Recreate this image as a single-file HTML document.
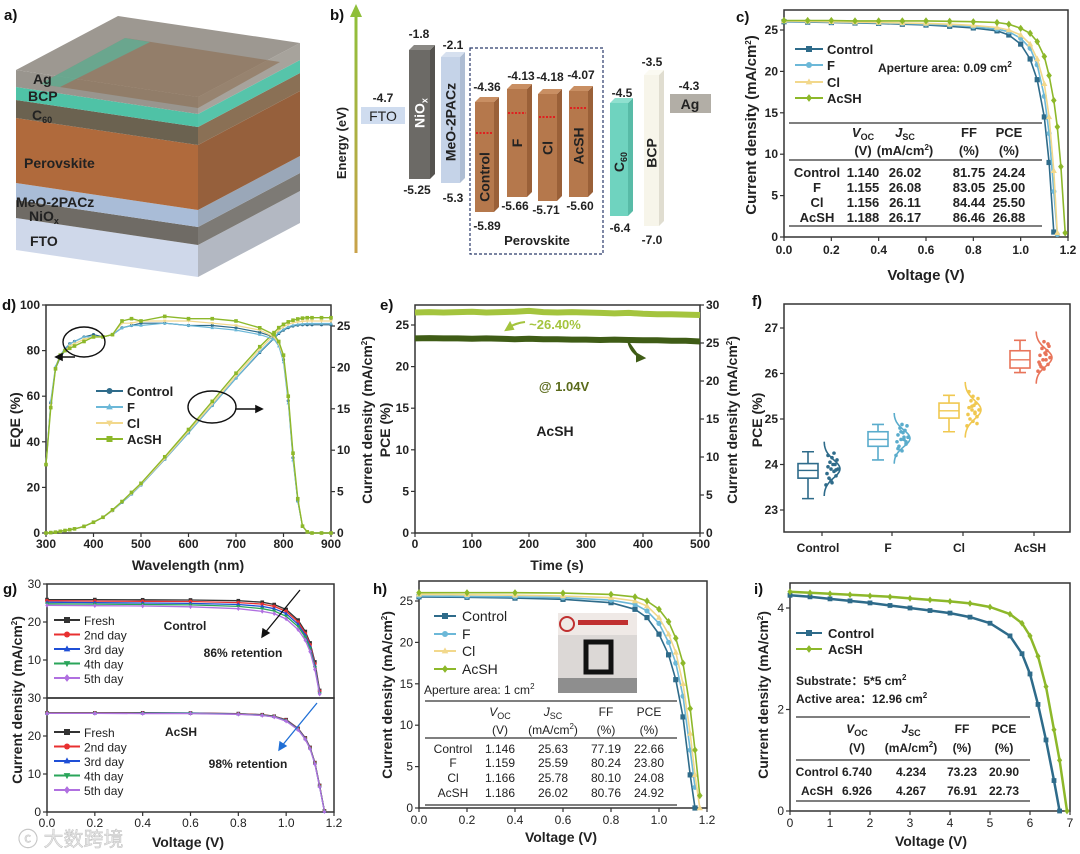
<!DOCTYPE html>
<html><head><meta charset="utf-8">
<style>
body{margin:0;background:#fff}
svg{display:block;font-family:"Liberation Sans","Noto Sans CJK SC",sans-serif}
</style></head>
<body>
<svg id="fig" width="1080" height="854" viewBox="0 0 1080 854">
<defs>
<linearGradient id="energyGrad" x1="0" y1="1" x2="0" y2="0">
<stop offset="0" stop-color="#c9a24a"/><stop offset="1" stop-color="#8fbf3a"/>
</linearGradient>
</defs>
<!-- panel a -->
<g>
<polygon points="16,218 198,245 198,277 16,250" fill="#cfd8ea"/>
<polygon points="198,245 300,191 300,223 198,277" fill="#b3b8c2"/>
<polygon points="16,200 198,227 198,245 16,218" fill="#6f6b65"/>
<polygon points="198,227 300,173 300,191 198,245" fill="#7d7a75"/>
<polygon points="16,183 198,210 198,227 16,200" fill="#a9bcd7"/>
<polygon points="198,210 300,156 300,173 198,227" fill="#9aa7b8"/>
<polygon points="16,118 198,145 198,210 16,183" fill="#b06a3c"/>
<polygon points="198,145 300,91 300,156 198,210" fill="#96603c"/>
<polygon points="16,100 198,127 198,145 16,118" fill="#6b6250"/>
<polygon points="198,127 300,73 300,91 198,145" fill="#8a7055"/>
<polygon points="16,87 198,114 198,127 16,100" fill="#4fc2a6"/>
<polygon points="198,114 300,60 300,73 198,127" fill="#56c4aa"/>
<polygon points="16,70 198,97 198,114 16,87" fill="#99958e"/>
<polygon points="198,97 300,43 300,60 198,114" fill="#a7a39c"/>
<polygon points="16,70 198,97 300,43 118,16" fill="#9d9891"/>
<polygon points="40,84 198,108 280,62 125,38" fill="#8a6a4a" opacity="0.55"/>
<polygon points="40,84 60,87 150,42 125,38" fill="#4fc2a6" opacity="0.6"/>
<g font-weight="bold" font-size="14" fill="#222">
<text x="33" y="84">Ag</text>
<text x="28" y="101">BCP</text>
<text x="32" y="120">C<tspan font-size="9" dy="3">60</tspan></text>
<text x="24" y="168">Perovskite</text>
<text x="16" y="207">MeO-2PACz</text>
<text x="29" y="221">NiO<tspan font-size="9" dy="3">x</tspan></text>
<text x="30" y="246">FTO</text>
</g>
</g>
<g font-weight="bold" font-size="15" fill="#111">
<text x="4" y="20">a)</text>
<text x="330" y="20">b)</text>
<text x="736" y="22">c)</text>
<text x="2" y="310">d)</text>
<text x="380" y="310">e)</text>
<text x="752" y="306">f)</text>
<text x="3" y="594">g)</text>
<text x="373" y="594">h)</text>
<text x="754" y="594">i)</text>
</g>
<!-- panel b -->
<g>
<rect x="354.5" y="14" width="3" height="239" fill="url(#energyGrad)"/>
<polygon points="356,4 350,17 362,17" fill="#8fbf3a"/>
<text transform="translate(346,143) rotate(-90)" text-anchor="middle" font-size="13" font-weight="bold" fill="#222">Energy (eV)</text>
<rect x="470" y="48" width="133" height="206" fill="none" stroke="#2a3a6a" stroke-width="1.2" stroke-dasharray="3,2"/>
<text x="537" y="245" text-anchor="middle" font-size="13" font-weight="bold" fill="#222">Perovskite</text>
</g>
<text x="18" y="846" font-size="20" fill="#e4e4e4" stroke="#bbb" stroke-width="0.4">ⓒ 大数跨境</text>
</svg>
<script>
const NS='http://www.w3.org/2000/svg';
const svg=document.getElementById('fig');
function mk(tag,attrs,parent){const e=document.createElementNS(NS,tag);for(const k in attrs)e.setAttribute(k,attrs[k]);(parent||svg).appendChild(e);return e;}
function txt(s,x,y,attrs,parent){const e=mk('text',Object.assign({x:x,y:y,fill:'#222'},attrs||{}),parent);e.innerHTML=s;return e;}
function scale(d0,d1,r0,r1){return v=>r0+(v-d0)*(r1-r0)/(d1-d0);}
function grp(name){const g=mk('g',{});return g;}

/* ---------- panel b bars ---------- */
const bBars=[
 {n:'nio-x-bar',x0:409,x1:430,y0:50,y1:179,f:'#6c6a66',s:'#55534f',t:'#8a8884',lab:'NiO<tspan font-size="9" dy="3">x</tspan>',lc:'#fff',ly:113,top:'-1.8',bot:'-5.25',tx:419,ty:38,bx:417,by:194},
 {n:'meo-2pacz-bar',x0:441,x1:460,y0:57,y1:183,f:'#c5d3e8',s:'#aebdd3',t:'#d6e0ef',lab:'MeO-2PACz',lc:'#222',ly:122,top:'-2.1',bot:'-5.3',tx:453,ty:49,bx:453,by:202},
 {n:'control-bar',x0:475,x1:494,y0:102,y1:212,f:'#b5784c',s:'#9a6038',t:'#c98f63',lab:'Control',lc:'#222',ly:177,top:'-4.36',bot:'-5.89',tx:487,ty:91,bx:487,by:230,red:133},
 {n:'f-bar',x0:507,x1:527,y0:89,y1:197,f:'#b5784c',s:'#9a6038',t:'#c98f63',lab:'F',lc:'#222',ly:143,top:'-4.13',bot:'-5.66',tx:521,ty:80,bx:515,by:210,red:113},
 {n:'cl-bar',x0:538,x1:557,y0:94,y1:201,f:'#b5784c',s:'#9a6038',t:'#c98f63',lab:'Cl',lc:'#222',ly:148,top:'-4.18',bot:'-5.71',tx:550,ty:81,bx:546,by:214,red:117},
 {n:'acsh-bar',x0:569,x1:588,y0:91,y1:197,f:'#b5784c',s:'#9a6038',t:'#c98f63',lab:'AcSH',lc:'#222',ly:146,top:'-4.07',bot:'-5.60',tx:581,ty:79,bx:580,by:210,red:108},
 {n:'c60-bar',x0:610,x1:628,y0:103,y1:216,f:'#6fd3bf',s:'#58bba7',t:'#8fe0cf',lab:'C<tspan font-size="9" dy="3">60</tspan>',lc:'#222',ly:162,top:'-4.5',bot:'-6.4',tx:622,ty:97,bx:620,by:232,lab2:1},
 {n:'bcp-bar',x0:644,x1:659,y0:75,y1:226,f:'#f7f5ea',s:'#e0ddd0',t:'#fbfaf2',lab:'BCP',lc:'#222',ly:153,top:'-3.5',bot:'-7.0',tx:652,ty:66,bx:652,by:244}
];
const gB=grp('energy-bars');
bBars.forEach(b=>{
 const d=5;
 const g=mk('g',{},gB);
 
 
 const fr=mk('rect',{x:b.x0,y:b.y0,width:b.x1-b.x0,height:b.y1-b.y0,fill:b.f},g);
 
 
 const sd=mk('polygon',{points:`${b.x1},${b.y0} ${b.x1+d},${b.y0-d} ${b.x1+d},${b.y1-d} ${b.x1},${b.y1}`,fill:b.s},g);
 
 
 const tp=mk('polygon',{points:`${b.x0},${b.y0} ${b.x0+d},${b.y0-d} ${b.x1+d},${b.y0-d} ${b.x1},${b.y0}`,fill:b.t},g);
 
 
 if(b.red){const r=mk('line',{x1:b.x0+1,x2:b.x1-1,y1:b.red,y2:b.red,stroke:'#e02020','stroke-width':2,'stroke-dasharray':'2,1.5'},g);
  
  }
 const cx=(b.x0+b.x1)/2;
 const l=txt(b.lab,0,0,{transform:`translate(${cx+5},${b.ly}) rotate(-90)`,'text-anchor':'middle','font-size':14,'font-weight':'bold',fill:b.lc},g);
 
 
 const t1=txt(b.top,b.tx,b.ty,{'text-anchor':'middle','font-size':12,'font-weight':'bold'},g);
 
 
 const t2=txt(b.bot,b.bx,b.by,{'text-anchor':'middle','font-size':12,'font-weight':'bold'},g);
 
 
});
const fto=mk('rect',{x:361,y:107,width:44,height:17,fill:'#cfdcef'},gB);


const ftoT=txt('FTO',383,121,{'text-anchor':'middle','font-size':14},gB);


const ftoV=txt('-4.7',383,102,{'text-anchor':'middle','font-size':12,'font-weight':'bold'},gB);


const ag=mk('rect',{x:670,y:94,width:41,height:19,fill:'#b2aea6'},gB);


const agT=txt('Ag',690,109,{'text-anchor':'middle','font-size':14,'font-weight':'bold'},gB);


const agV=txt('-4.3',689,90,{'text-anchor':'middle','font-size':12,'font-weight':'bold'},gB);



/* ---------- shared helpers ---------- */
function frame(g,x0,y0,x1,y1,name){const r=mk('rect',{x:x0,y:y0,width:x1-x0,height:y1-y0,fill:'none',stroke:'#333','stroke-width':1.5},g);
 
 }
function xTicks(g,ticks,labels,sx,y,ly,name,fw){ticks.forEach((t,i)=>{
 const l=mk('line',{x1:sx(t),x2:sx(t),y1:y,y2:y+4,stroke:'#333','stroke-width':1.2},g);
 
 
 const tx=txt(labels[i],sx(t),ly,{'text-anchor':'middle','font-size':12,'font-weight':fw||'bold'},g);
 
 });}
function yTicks(g,ticks,labels,sy,x,dir,name,fw){ticks.forEach((t,i)=>{
 const l=mk('line',{x1:x,x2:x+4*dir,y1:sy(t),y2:sy(t),stroke:'#333','stroke-width':1.2},g);
 
 
 const tx=txt(labels[i],x+6*dir,sy(t)+4,{'text-anchor':dir<0?'end':'start','font-size':12,'font-weight':fw||'bold'},g);
 
 });}
function marker(g,type,x,y,s,c){
 if(type==='sq')return mk('rect',{x:x-s,y:y-s,width:2*s,height:2*s,fill:c},g);
 if(type==='ci')return mk('circle',{cx:x,cy:y,r:s,fill:c},g);
 if(type==='tri')return mk('polygon',{points:`${x},${y-s*1.2} ${x-s*1.1},${y+s*0.8} ${x+s*1.1},${y+s*0.8}`,fill:c},g);
 if(type==='tdn')return mk('polygon',{points:`${x},${y+s*1.2} ${x-s*1.1},${y-s*0.8} ${x+s*1.1},${y-s*0.8}`,fill:c},g);
 if(type==='dia')return mk('polygon',{points:`${x},${y-s*1.3} ${x-s},${y} ${x},${y+s*1.3} ${x+s},${y}`,fill:c},g);
 return mk('circle',{cx:x,cy:y,r:s,fill:c},g);}
function series(g,xs,ys,sx,sy,color,mtype,ms,name,sw){
 const pts=[];xs.forEach((x,i)=>{if(ys[i]!=null)pts.push([sx(x),sy(ys[i])]);});
 const p=mk('path',{d:pts.map((q,i)=>(i?'L':'M')+q[0].toFixed(1)+','+q[1].toFixed(1)).join(''),fill:'none',stroke:color,'stroke-width':sw||1.6,'stroke-linejoin':'round'},g);
 
 
 if(mtype)pts.forEach(q=>{const m=marker(g,mtype,q[0],q[1],ms,color);
  
  });}
function legend(g,x0,x1,tx,y,color,mtype,label,name,fs,fw){
 const l=mk('line',{x1:x0,x2:x1,y1:y,y2:y,stroke:color,'stroke-width':2},g);
 
 
 const m=marker(g,mtype,(x0+x1)/2,y,3,color);
 
 
 const t=txt(label,tx,y+5,{'font-size':fs||13,'font-weight':fw||'bold'},g);
 
 }
function label(g,s,x,y,attrs,name){const t=txt(s,x,y,attrs,g);
 
 return t;}
function hline(g,x0,x1,y,name){const l=mk('line',{x1:x0,x2:x1,y1:y,y2:y,stroke:'#555','stroke-width':1.6},g);
 
 }
function table(g,cols,heads,units,rows,rowLabels,labX,hy,uy,rys,fs,fw,name){
 heads.forEach((h,i)=>{label(g,h,cols[i],hy,{'text-anchor':'middle','font-size':fs,'font-weight':fw},name+'-header');
  label(g,units[i],cols[i],uy,{'text-anchor':'middle','font-size':fs,'font-weight':fw},name+'-unit');});
 rows.forEach((r,j)=>{label(g,rowLabels[j],labX,rys[j],{'text-anchor':'middle','font-size':fs,'font-weight':fw},name+'-row-label');
  r.forEach((v,i)=>label(g,v,cols[i],rys[j],{'text-anchor':'middle','font-size':fs,'font-weight':fw},name+'-cell'));});}
const VOC='<tspan font-style="italic">V</tspan><tspan font-size="9" dy="3">OC</tspan>';
const JSC='<tspan font-style="italic">J</tspan><tspan font-size="9" dy="3">SC</tspan>';
const MACM='(mA/cm<tspan font-size="8" dy="-5">2</tspan><tspan dy="5">)</tspan>';

/* ---------- panel c data ---------- */
const cV=[0,0.1,0.2,0.3,0.4,0.5,0.6,0.7,0.8,0.9,0.95,1.0,1.04,1.07,1.1,1.12,1.14,1.155,1.17,1.188];
const cControl=[26.0,25.95,25.9,25.85,25.8,25.7,25.6,25.45,25.25,24.9,24.4,23.3,21.5,19.0,14.5,9.0,0.6,null,null,null];
const cF=[26.05,26.0,25.95,25.9,25.85,25.8,25.7,25.6,25.4,25.1,24.8,24.0,22.8,20.8,17.0,12.5,5.5,0.3,null,null];
const cCl=[26.1,26.05,26.0,25.95,25.9,25.85,25.8,25.7,25.55,25.3,25.0,24.4,23.3,21.5,18.5,14.5,8.0,0.5,null,null];
const cAcSH=[26.15,26.15,26.15,26.1,26.1,26.1,26.1,26.05,26.0,25.9,25.7,25.2,24.6,23.6,21.8,19.5,16.5,13.3,8.5,0.5];
const cXTicks=[0,0.2,0.4,0.6,0.8,1.0,1.2];
const cXLabels=['0.0','0.2','0.4','0.6','0.8','1.0','1.2'];
const cYTicks=[0,5,10,15,20,25];
const cYLabels=['0','5','10','15','20','25'];
const cRowLabels=['Control','F','Cl','AcSH'];
const cRows=[['1.140','26.02','81.75','24.24'],['1.155','26.08','83.05','25.00'],['1.156','26.11','84.44','25.50'],['1.188','26.17','86.46','26.88']];
const COL={Control:'#2e6b8a',F:'#6cb8d8',Cl:'#f2d88c',AcSH:'#8db82a'};
(function(){
 const g=grp('panel-c-jv-chart');
 const sx=scale(0,1.2,784,1068),sy=scale(0,25,237,30);
 frame(g,784,10,1068,237,'panel-c');
 xTicks(g,cXTicks,cXLabels,sx,237,254,'panel-c');
 yTicks(g,cYTicks,cYLabels,sy,784,-1,'panel-c');
 label(g,'Voltage (V)',926,280,{'text-anchor':'middle','font-size':15,'font-weight':'bold'},'panel-c-x-axis-title');
 label(g,'Current density '+MACM,0,0,{transform:'translate(756,125) rotate(-90)','text-anchor':'middle','font-size':15,'font-weight':'bold'},'panel-c-y-axis-title');
 series(g,cV,cControl,sx,sy,COL.Control,'sq',2.6,'c-control');
 series(g,cV,cF,sx,sy,COL.F,'ci',2.6,'c-f');
 series(g,cV,cCl,sx,sy,COL.Cl,'tri',2.8,'c-cl');
 series(g,cV,cAcSH,sx,sy,COL.AcSH,'dia',2.8,'c-acsh');
 legend(g,795,823,827,49,COL.Control,'sq','Control','c-control');
 legend(g,795,823,827,65,COL.F,'ci','F','c-f');
 legend(g,795,823,827,82,COL.Cl,'tri','Cl','c-cl');
 legend(g,795,823,827,98,COL.AcSH,'dia','AcSH','c-acsh');
 label(g,'Aperture area: 0.09 cm<tspan font-size="8" dy="-5">2</tspan>',878,72,{'font-size':12,'font-weight':'bold'},'c-aperture-note');
 hline(g,789,1042,123,'c-table-top-rule');hline(g,789,1042,160,'c-table-header-rule');hline(g,789,1042,226,'c-table-bottom-rule');
 table(g,[863,905,969,1009],[VOC,JSC,'FF','PCE'],['(V)',MACM,'(%)','(%)'],cRows,cRowLabels,817,137,155,[177,192,207,222],13,'bold','c-table');
})();

/* ---------- panel d data ---------- */
const dWl=[300,310,320,330,340,350,360,380,400,420,440,460,480,500,550,600,650,700,750,780,790,800,810,820,830,840,850,860,880,900];
const dEqeControl=[30,57,72,77,80,83,84,86,87,86,87,90,91,92,92,91,91,90,88,86,83,76,58,33,14,3,0.5,0,0,0];
const dEqeF=[30,58,73,78,81,83,84,86,86,86,87,90,91,91,92,91,90,89,87,85,82,75,57,32,14,3,0.5,0,0,0];
const dEqeCl=[30,56,72,78,80,82,83,85,86,86,87,92,92,93,93,93,92,91,89,86,83,77,59,34,15,3,0.5,0,0,0];
const dEqeAcSH=[30,55,72,78,80,81,82,84,86,86,87,93,94,93,95,94,94,93,90,87,84,78,60,35,15,3,0.5,0,0,0];
const dJControl=[0,0.05,0.1,0.2,0.3,0.4,0.5,0.8,1.3,1.9,2.7,3.7,4.7,5.8,8.9,12.1,15.4,18.7,21.8,23.5,24.1,24.5,24.8,25.0,25.1,25.15,25.15,25.15,25.15,25.15];
const dJF=[0,0.05,0.1,0.2,0.3,0.4,0.5,0.8,1.3,1.9,2.7,3.7,4.7,5.8,8.9,12.1,15.4,18.7,21.9,23.6,24.2,24.6,24.9,25.1,25.2,25.25,25.3,25.3,25.3,25.3];
const dJCl=[0,0.05,0.1,0.2,0.3,0.4,0.5,0.8,1.3,1.9,2.7,3.8,4.8,5.9,9.0,12.3,15.6,19.0,22.2,23.9,24.5,24.9,25.2,25.4,25.5,25.55,25.6,25.6,25.6,25.6];
const dJAcSH=[0,0.05,0.1,0.2,0.3,0.4,0.5,0.8,1.3,1.9,2.8,3.8,4.9,6.0,9.2,12.5,15.9,19.3,22.5,24.2,24.8,25.2,25.5,25.7,25.85,25.95,26.0,26.0,26.0,26.0];
const dXTicks=[300,400,500,600,700,800,900];
const dXLabels=['300','400','500','600','700','800','900'];
const dYTicks=[0,20,40,60,80,100];
const dYLabels=['0','20','40','60','80','100'];
const dY2Ticks=[0,5,10,15,20,25];
const dY2Labels=['0','5','10','15','20','25'];
(function(){
 const g=grp('panel-d-eqe-chart');
 const sx=scale(300,900,46,331),sy=scale(0,100,533,305),sy2=scale(0,25,533,326);
 frame(g,46,305,331,533,'panel-d');
 xTicks(g,dXTicks,dXLabels,sx,533,548,'panel-d');
 yTicks(g,dYTicks,dYLabels,sy,46,-1,'panel-d');
 yTicks(g,dY2Ticks,dY2Labels,sy2,331,1,'panel-d-right');
 label(g,'Wavelength (nm)',188,570,{'text-anchor':'middle','font-size':14,'font-weight':'bold'},'panel-d-x-axis-title');
 label(g,'EQE (%)',0,0,{transform:'translate(20,420) rotate(-90)','text-anchor':'middle','font-size':14,'font-weight':'bold'},'panel-d-y-axis-title');
 label(g,'Current density '+MACM,0,0,{transform:'translate(372,420) rotate(-90)','text-anchor':'middle','font-size':14,'font-weight':'bold'},'panel-d-right-axis-title');
 series(g,dWl,dJControl,sx,sy2,COL.Control,'ci',1.6,'d-jsc-control',1.2);
 series(g,dWl,dJF,sx,sy2,COL.F,'tri',1.6,'d-jsc-f',1.2);
 series(g,dWl,dJCl,sx,sy2,COL.Cl,'tdn',1.6,'d-jsc-cl',1.2);
 series(g,dWl,dJAcSH,sx,sy2,COL.AcSH,'sq',1.8,'d-jsc-acsh',1.4);
 series(g,dWl,dEqeControl,sx,sy,COL.Control,'ci',1.6,'d-eqe-control',1.2);
 series(g,dWl,dEqeF,sx,sy,COL.F,'tri',1.6,'d-eqe-f',1.2);
 series(g,dWl,dEqeCl,sx,sy,COL.Cl,'tdn',1.6,'d-eqe-cl',1.2);
 series(g,dWl,dEqeAcSH,sx,sy,COL.AcSH,'sq',1.8,'d-eqe-acsh',1.4);
 const c1=mk('ellipse',{cx:84,cy:342,rx:21,ry:15,fill:'none',stroke:'#111','stroke-width':1.4},g);
 
 
 const a1=mk('path',{d:'M75,357 L56,357 M56,357 l6,-3 l0,6 z',stroke:'#111',fill:'#111','stroke-width':1.6},g);
 
 
 const c2=mk('ellipse',{cx:212,cy:407,rx:24,ry:16,fill:'none',stroke:'#111','stroke-width':1.4},g);
 
 
 const a2=mk('path',{d:'M236,409 L262,409 M262,409 l-6,-3 l0,6 z',stroke:'#111',fill:'#111','stroke-width':1.6},g);
 
 
 legend(g,96,123,127,391,COL.Control,'ci','Control','d-control',13);
 legend(g,96,123,127,407,COL.F,'tri','F','d-f',13);
 legend(g,96,123,127,423,COL.Cl,'tdn','Cl','d-cl',13);
 legend(g,96,123,127,439,COL.AcSH,'sq','AcSH','d-acsh',13);
})();

/* ---------- panel e data ---------- */
const eTime=[0,25,50,75,100,125,150,175,200,225,250,275,300,325,350,375,400,425,450,475,500];
const ePce=[26.5,26.55,26.5,26.55,26.6,26.5,26.55,26.6,26.7,26.55,26.5,26.55,26.5,26.45,26.4,26.45,26.35,26.3,26.3,26.25,26.2];
const eCurrent=[25.6,25.65,25.6,25.6,25.55,25.6,25.55,25.5,25.55,25.5,25.5,25.45,25.45,25.4,25.45,25.4,25.35,25.35,25.3,25.3,25.2];
const eXTicks=[0,100,200,300,400,500];
const eXLabels=['0','100','200','300','400','500'];
const eYTicks=[0,5,10,15,20,25];
const eYLabels=['0','5','10','15','20','25'];
const eY2Ticks=[0,5,10,15,20,25,30];
const eY2Labels=['0','5','10','15','20','25','30'];
(function(){
 const g=grp('panel-e-stability-chart');
 const sx=scale(0,500,415,700),sy=scale(0,25,533,325),sy2=scale(0,30,533,305);
 frame(g,415,305,700,533,'panel-e');
 xTicks(g,eXTicks,eXLabels,sx,533,548,'panel-e');
 yTicks(g,eYTicks,eYLabels,sy,415,-1,'panel-e');
 yTicks(g,eY2Ticks,eY2Labels,sy2,700,1,'panel-e-right');
 label(g,'Time (s)',557,570,{'text-anchor':'middle','font-size':14,'font-weight':'bold'},'panel-e-x-axis-title');
 label(g,'PCE (%)',0,0,{transform:'translate(390,430) rotate(-90)','text-anchor':'middle','font-size':14,'font-weight':'bold'},'panel-e-y-axis-title');
 label(g,'Current density '+MACM,0,0,{transform:'translate(737,420) rotate(-90)','text-anchor':'middle','font-size':14,'font-weight':'bold'},'panel-e-right-axis-title');
 series(g,eTime,ePce,sx,sy,'#a4c43e',null,0,'e-pce',6);
 series(g,eTime,eCurrent,sx,sy2,'#3f5c16',null,0,'e-current',6);
 label(g,'~26.40%',555,329,{'text-anchor':'middle','font-size':13,'font-weight':'bold',fill:'#a4c43e'},'e-pce-annotation');
 const ar=mk('path',{d:'M525,322 Q515,323 508,328 M506,330 l4,-7 l3,6 z',stroke:'#a4c43e',fill:'#a4c43e','stroke-width':2},g);
 
 
 const ar2=mk('path',{d:'M628,340 Q630,352 640,357 M644,358 l-7,-4 l0,7 z',stroke:'#3f5c16',fill:'#3f5c16','stroke-width':2},g);
 
 
 label(g,'@ 1.04V',564,391,{'text-anchor':'middle','font-size':13,'font-weight':'bold',fill:'#5a6a1a'},'e-bias-annotation');
 label(g,'AcSH',555,436,{'text-anchor':'middle','font-size':14,'font-weight':'bold'},'e-sample-annotation');
})();

/* ---------- panel f data ---------- */
const fCats=['Control','F','Cl','AcSH'];
const fBoxLow=[23.7,24.4,25.02,26.12];
const fBoxMed=[23.87,24.55,25.18,26.3];
const fBoxHigh=[24.02,24.72,25.35,26.5];
const fWhiskLow=[23.25,24.1,24.72,26.02];
const fWhiskHigh=[24.28,24.88,25.52,26.73];
const fPoints=[
 [23.55,23.6,23.7,23.75,23.8,23.85,23.9,23.9,23.95,24.0,24.0,24.05,24.1,24.15,24.2,24.25,23.65,23.88],
 [24.2,24.3,24.4,24.45,24.5,24.55,24.55,24.6,24.65,24.7,24.75,24.8,24.85,24.88,24.35,24.6,24.72,24.5],
 [24.85,24.95,25.0,25.05,25.1,25.15,25.2,25.2,25.25,25.3,25.35,25.4,25.45,25.5,25.6,25.12,25.28,24.9],
 [26.05,26.1,26.15,26.2,26.25,26.3,26.3,26.35,26.4,26.45,26.5,26.55,26.6,26.7,26.2,26.42,26.12,26.65]];
const fYTicks=[23,24,25,26,27];
const fYLabels=['23','24','25','26','27'];
const fColors=['#2e6b8a','#5aaccc','#f0c850','#e8745a'];
const fJitter=[4,10,7,14,5,12,9,16,6,11,13,8,15,10,6,12,9,14];
(function(){
 const g=grp('panel-f-box-chart');
 const sy=scale(23,27,510,328);
 const cxs=[822,892,963,1034];
 frame(g,784,304,1070,532,'panel-f');
 yTicks(g,fYTicks,fYLabels,sy,784,-1,'panel-f');
 label(g,'PCE (%)',0,0,{transform:'translate(762,420) rotate(-90)','text-anchor':'middle','font-size':14,'font-weight':'bold'},'panel-f-y-axis-title');
 fCats.forEach((c,i)=>{
  const cx=cxs[i],col=fColors[i];
  const tk=mk('line',{x1:cx,x2:cx,y1:532,y2:536,stroke:'#333','stroke-width':1.2},g);
  
  
  label(g,c,cx-4,552,{'text-anchor':'middle','font-size':12,'font-weight':'bold'},'f-x-tick-label');
  const bx=cx-14;
  const w=mk('path',{d:`M${bx},${sy(fWhiskLow[i])}L${bx},${sy(fBoxLow[i])}M${bx},${sy(fBoxHigh[i])}L${bx},${sy(fWhiskHigh[i])}M${bx-6},${sy(fWhiskLow[i])}L${bx+6},${sy(fWhiskLow[i])}M${bx-6},${sy(fWhiskHigh[i])}L${bx+6},${sy(fWhiskHigh[i])}`,stroke:col,'stroke-width':1.6,fill:'none'},g);
  
  
  const r=mk('rect',{x:bx-10,y:sy(fBoxHigh[i]),width:20,height:sy(fBoxLow[i])-sy(fBoxHigh[i]),fill:'none',stroke:col,'stroke-width':1.6},g);
  
  
  const m=mk('line',{x1:bx-10,x2:bx+10,y1:sy(fBoxMed[i]),y2:sy(fBoxMed[i]),stroke:col,'stroke-width':1.4},g);
  
  
  const pts=fPoints[i];
  const mean=pts.reduce((a,b)=>a+b,0)/pts.length;
  const sd=Math.sqrt(pts.reduce((a,b)=>a+(b-mean)*(b-mean),0)/pts.length);
  let d='';
  for(let k=0;k<=40;k++){const v=mean-3*sd+6*sd*k/40;const x=cx+2+16*Math.exp(-((v-mean)**2)/(2*sd*sd));d+=(k?'L':'M')+x.toFixed(1)+','+sy(v).toFixed(1);}
  const dp=mk('path',{d:d,fill:'none',stroke:col,'stroke-width':1.6},g);
  
  
  pts.forEach((v,k)=>{const p=mk('circle',{cx:cx+fJitter[k%fJitter.length],cy:sy(v),r:1.8,fill:col},g);
   
   });
 });
})();

/* ---------- panel g data ---------- */
const gV=[0,0.2,0.4,0.6,0.8,0.9,0.95,1.0,1.05,1.08,1.1,1.12,1.14,1.16];
const gCtrlFresh=[25.9,25.9,25.85,25.8,25.6,25.2,24.6,23.3,20.5,17.5,14.5,9.5,2.0,null];
const gCtrl2=[25.6,25.5,25.45,25.4,25.1,24.7,24.1,22.8,20.0,17.0,14.0,9.0,1.8,null];
const gCtrl3=[25.2,25.1,25.0,24.9,24.6,24.1,23.5,22.2,19.4,16.5,13.5,8.5,1.5,null];
const gCtrl4=[24.8,24.7,24.6,24.5,24.1,23.5,22.9,21.5,18.8,16.0,13.0,8.0,1.2,null];
const gCtrl5=[24.4,24.3,24.2,24.0,23.5,22.8,22.2,20.8,18.0,15.2,12.2,7.5,1.0,null];
const gAcFresh=[26.1,26.1,26.1,26.05,25.9,25.6,25.2,24.3,22.0,19.5,17.0,13.0,7.0,0.3];
const gAc2=[26.1,26.1,26.05,26.0,25.85,25.55,25.15,24.2,21.9,19.4,16.9,12.9,6.9,0.3];
const gAc3=[26.05,26.05,26.0,26.0,25.8,25.5,25.1,24.1,21.8,19.3,16.8,12.8,6.8,0.2];
const gAc4=[26.0,26.0,25.95,25.95,25.75,25.45,25.05,24.0,21.7,19.2,16.7,12.7,6.7,0.2];
const gAc5=[25.95,25.95,25.9,25.9,25.7,25.4,25.0,23.9,21.6,19.1,16.6,12.6,6.6,0.1];
const gXTicks=[0,0.2,0.4,0.6,0.8,1.0,1.2];
const gXLabels=['0.0','0.2','0.4','0.6','0.8','1.0','1.2'];
const gTopTicks=[10,20,30];
const gTopLabels=['10','20','30'];
const gBotTicks=[0,10,20,30];
const gBotLabels=['0','10','20','30'];
const gDays=['Fresh','2nd day','3rd day','4th day','5th day'];
const gCols=['#333333','#e83030','#1f4fd6','#2aa55a','#b070e0'];
const gMarks=['sq','ci','tri','tdn','dia'];
(function(){
 const g=grp('panel-g-stability-jv');
 const sx=scale(0,1.2,47,334),syT=scale(0,30,698,584),syB=scale(0,30,812,698);
 frame(g,47,584,334,698,'panel-g-top');
 frame(g,47,698,334,812,'panel-g-bottom');
 xTicks(g,gXTicks,gXLabels,sx,812,827,'panel-g','normal');
 yTicks(g,gTopTicks,gTopLabels,syT,47,-1,'panel-g-top','normal');
 yTicks(g,gBotTicks,gBotLabels,syB,47,-1,'panel-g-bottom','normal');
 label(g,'Voltage (V)',188,847,{'text-anchor':'middle','font-size':14,'font-weight':'bold'},'panel-g-x-axis-title');
 label(g,'Current density '+MACM,0,0,{transform:'translate(22,700) rotate(-90)','text-anchor':'middle','font-size':14,'font-weight':'bold'},'panel-g-y-axis-title');
 [gCtrlFresh,gCtrl2,gCtrl3,gCtrl4,gCtrl5].forEach((s,i)=>series(g,gV,s,sx,syT,gCols[i],gMarks[i],1.8,'g-control-'+i,1.3));
 [gAcFresh,gAc2,gAc3,gAc4,gAc5].forEach((s,i)=>series(g,gV,s,sx,syB,gCols[i],gMarks[i],1.8,'g-acsh-'+i,1.3));
 gDays.forEach((d,i)=>{legend(g,54,80,84,620+i*14.5,gCols[i],gMarks[i],d,'g-top-'+i,12,'normal');
  legend(g,54,80,84,732+i*14.5,gCols[i],gMarks[i],d,'g-bottom-'+i,12,'normal');});
 label(g,'Control',185,630,{'text-anchor':'middle','font-size':12,'font-weight':'bold'},'g-control-label');
 label(g,'86% retention',243,657,{'text-anchor':'middle','font-size':12,'font-weight':'bold'},'g-control-retention');
 label(g,'AcSH',181,736,{'text-anchor':'middle','font-size':12,'font-weight':'bold'},'g-acsh-label');
 label(g,'98% retention',248,768,{'text-anchor':'middle','font-size':12,'font-weight':'bold'},'g-acsh-retention');
 const a1=mk('path',{d:'M300,590 L264,634 M262,637 l1,-8 l6,4 z',stroke:'#111',fill:'#111','stroke-width':1.3},g);
 
 
 const a2=mk('path',{d:'M317,703 L281,747 M279,750 l1,-8 l6,4 z',stroke:'#1f6fd6',fill:'#1f6fd6','stroke-width':1.3},g);
 
 
})();

/* ---------- panel h data ---------- */
const hV=[0,0.2,0.4,0.6,0.8,0.9,0.95,1.0,1.04,1.07,1.1,1.13,1.15,1.17,1.19];
const hControl=[25.5,25.45,25.35,25.2,24.8,24.0,23.0,21.0,18.5,15.5,11.0,4.0,0.0,null,null];
const hF=[25.6,25.55,25.5,25.4,25.1,24.6,23.8,22.3,20.0,17.5,13.5,7.0,2.5,null,null];
const hCl=[25.8,25.75,25.7,25.6,25.4,25.0,24.4,23.0,21.0,18.8,15.0,9.0,4.0,0.0,null];
const hAcSH=[26.0,26.0,26.0,25.95,25.8,25.5,25.0,24.0,22.5,20.5,17.5,12.0,7.0,1.5,null];
const hXTicks=[0,0.2,0.4,0.6,0.8,1.0,1.2];
const hXLabels=['0.0','0.2','0.4','0.6','0.8','1.0','1.2'];
const hYTicks=[0,5,10,15,20,25];
const hYLabels=['0','5','10','15','20','25'];
const hRowLabels=['Control','F','Cl','AcSH'];
const hRows=[['1.146','25.63','77.19','22.66'],['1.159','25.59','80.24','23.80'],['1.166','25.78','80.10','24.08'],['1.186','26.02','80.76','24.92']];
(function(){
 const g=grp('panel-h-large-area-jv');
 const sx=scale(0,1.2,419,707),sy=scale(0,25,808,601);
 frame(g,419,581,707,808,'panel-h');
 xTicks(g,hXTicks,hXLabels,sx,808,824,'panel-h','normal');
 yTicks(g,hYTicks,hYLabels,sy,419,-1,'panel-h','normal');
 label(g,'Voltage (V)',561,842,{'text-anchor':'middle','font-size':14,'font-weight':'bold'},'panel-h-x-axis-title');
 label(g,'Current density '+MACM,0,0,{transform:'translate(392,695) rotate(-90)','text-anchor':'middle','font-size':14,'font-weight':'bold'},'panel-h-y-axis-title');
 series(g,hV,hControl,sx,sy,COL.Control,'sq',2.6,'h-control');
 series(g,hV,hF,sx,sy,COL.F,'ci',2.6,'h-f');
 series(g,hV,hCl,sx,sy,COL.Cl,'tri',2.8,'h-cl');
 series(g,hV,hAcSH,sx,sy,COL.AcSH,'dia',2.8,'h-acsh');
 legend(g,434,456,462,616,COL.Control,'sq','Control','h-control',14,'normal');
 legend(g,434,456,462,634,COL.F,'ci','F','h-f',14,'normal');
 legend(g,434,456,462,651,COL.Cl,'tri','Cl','h-cl',14,'normal');
 legend(g,434,456,462,669,COL.AcSH,'dia','AcSH','h-acsh',14,'normal');
 label(g,'Aperture area: 1 cm<tspan font-size="8" dy="-5">2</tspan>',424,694,{'font-size':12},'h-aperture-note');
 const ph=grp('h-device-photo');
 g.appendChild(ph);
 const bg=mk('rect',{x:558,y:613,width:79,height:80,fill:'#dcd8d6'},ph);
 
 
 const hd=mk('rect',{x:558,y:613,width:79,height:22,fill:'#efe9e6'},ph);
 
 
 const lg=mk('circle',{cx:567,cy:624,r:7,fill:'none',stroke:'#c03030','stroke-width':2},ph);
 
 
 const lt=mk('rect',{x:578,y:620,width:50,height:5,fill:'#c03030'},ph);
 
 
 const dv=mk('rect',{x:586,y:642,width:25,height:30,fill:'none',stroke:'#111','stroke-width':5},ph);
 
 
 const rl=mk('rect',{x:558,y:678,width:79,height:15,fill:'#8e8e8e'},ph);
 
 
 hline(g,425,677,701,'h-table-top-rule');hline(g,425,677,738,'h-table-header-rule');hline(g,425,677,805,'h-table-bottom-rule');
 table(g,[500,553,606,649],[VOC,JSC,'FF','PCE'],['(V)',MACM,'(%)','(%)'],hRows,hRowLabels,453,716,734,[753,767,782,797],12,'normal','h-table');
})();

/* ---------- panel i data ---------- */
const iV=[0,0.5,1,1.5,2,2.5,3,3.5,4,4.5,5,5.5,5.8,6.0,6.2,6.4,6.6,6.74,6.926];
const iControl=[4.25,4.22,4.18,4.14,4.1,4.05,4.0,3.95,3.9,3.82,3.7,3.45,3.1,2.7,2.1,1.4,0.6,0.0,null];
const iAcSH=[4.32,4.3,4.28,4.26,4.24,4.22,4.19,4.16,4.13,4.09,4.02,3.88,3.7,3.45,3.05,2.45,1.6,1.0,0.0];
const iXTicks=[0,1,2,3,4,5,6,7];
const iXLabels=['0','1','2','3','4','5','6','7'];
const iYTicks=[0,2,4];
const iYLabels=['0','2','4'];
const iRowLabels=['Control','AcSH'];
const iRows=[['6.740','4.234','73.23','20.90'],['6.926','4.267','76.91','22.73']];
(function(){
 const g=grp('panel-i-module-jv');
 const sx=scale(0,7,790,1070),sy=scale(0,4,811,608);
 frame(g,790,583,1070,811,'panel-i');
 xTicks(g,iXTicks,iXLabels,sx,811,827,'panel-i','normal');
 yTicks(g,iYTicks,iYLabels,sy,790,-1,'panel-i','normal');
 label(g,'Voltage (V)',931,846,{'text-anchor':'middle','font-size':14,'font-weight':'bold'},'panel-i-x-axis-title');
 label(g,'Current density '+MACM,0,0,{transform:'translate(768,695) rotate(-90)','text-anchor':'middle','font-size':14,'font-weight':'bold'},'panel-i-y-axis-title');
 series(g,iV,iControl,sx,sy,COL.Control,'sq',2.4,'i-control',2.5);
 series(g,iV,iAcSH,sx,sy,COL.AcSH,'dia',2.6,'i-acsh',2.5);
 legend(g,796,822,828,633,COL.Control,'sq','Control','i-control',13,'bold');
 legend(g,796,822,828,649,COL.AcSH,'dia','AcSH','i-acsh',13,'bold');
 label(g,'Substrate：5*5 cm<tspan font-size="8" dy="-5">2</tspan>',796,685,{'font-size':12,'font-weight':'bold'},'i-substrate-note');
 label(g,'Active area：12.96 cm<tspan font-size="8" dy="-5">2</tspan>',796,703,{'font-size':12,'font-weight':'bold'},'i-active-area-note');
 hline(g,796,1030,717,'i-table-top-rule');hline(g,796,1030,760,'i-table-header-rule');hline(g,796,1030,801,'i-table-bottom-rule');
 table(g,[857,911,962,1004],[VOC,JSC,'FF','PCE'],['(V)',MACM,'(%)','(%)'],iRows,iRowLabels,817,733,752,[776,795],12,'bold','i-table');
})();
</script>
</body></html>
